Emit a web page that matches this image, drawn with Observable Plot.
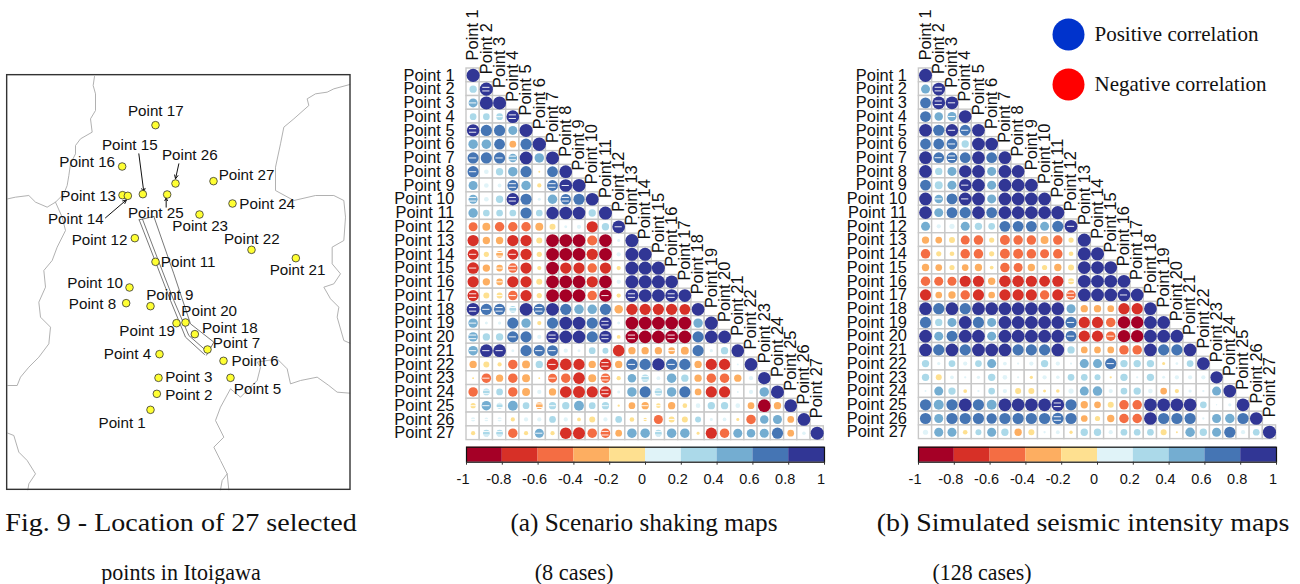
<!DOCTYPE html>
<html><head><meta charset="utf-8">
<script src="https://cdn.jsdelivr.net/npm/d3@7"></script>
<script src="https://cdn.jsdelivr.net/npm/@observablehq/plot@0.6"></script>
<style>
html,body{margin:0;padding:0;background:#fff}
#c{position:relative;width:1300px;height:584px;overflow:hidden}
#c svg{position:absolute;background:transparent;overflow:visible}
.cap{position:absolute;font-family:"Liberation Serif",serif;color:#111;white-space:nowrap;line-height:1}
</style></head><body><div id="c"></div>
<script>
const pointNames = d3.range(1,28).map(i=>"Point "+i);
const binEdges = [-1,-0.8,-0.6,-0.4,-0.2,0,0.2,0.4,0.6,0.8,1];
const binColors = ["#A50026","#D73027","#F46D43","#FDAE61","#FEE090","#E0F3F8","#ABD9E9","#74ADD1","#4575B4","#313695"];

const rowsA = [
[.95],
[.3,.95],
[.45,.95,.95],
[.25,.25,.25,.9],
[.85,.7,.7,.45,.95],
[.5,.5,.65,-.25,.7,1],
[.7,.7,.7,.4,.9,.5,.95],
[.7,.12,.3,.5,.7,-.02,.65,.9],
[.45,.12,.08,.65,.5,-.1,.65,.9,.95],
[.45,.12,.3,.85,.7,.05,.5,.6,.7,.9],
[.5,.25,.25,.25,.7,.25,.85,.9,.9,.3,.95],
[-.45,-.35,-.5,-.5,-.5,-.35,-.2,.05,.1,-.7,.3,.9],
[-.7,-.3,-.3,-.7,-.7,-.2,-.9,-.9,-.9,-.55,-.9,.05,.95],
[-.65,-.15,-.25,-.65,-.7,-.15,-.9,-.9,-.9,-.7,-.9,.1,.95,.95],
[-.75,-.3,-.25,-.5,-.7,-.1,-.9,-.7,-.7,-.5,-.7,-.1,.95,.95,.95],
[-.7,-.3,-.25,-.7,-.7,-.2,-.9,-.9,-.9,-.7,-.9,.1,.95,.95,.95,.9],
[-.7,-.2,-.2,-.5,-.7,-.15,-.9,-.9,-.9,-.5,-.85,-.1,.9,.9,.9,.9,.9],
[.9,.7,.7,.25,.9,.7,.9,.7,.5,.5,.7,-.4,-.7,-.7,-.7,-.7,-.65,.9],
[.5,.05,.06,.7,.5,-.1,.7,.9,.9,.7,.85,.05,-.9,-.9,-.9,-.9,-.9,.5,.95],
[.5,.3,.3,.7,.7,.1,.85,.9,.9,.7,.85,-.08,-.9,-.9,-.9,-.9,-.9,.7,.9,.9],
[.5,.9,.9,.05,.7,.7,.65,.1,.05,.25,.2,-.75,-.3,-.3,-.3,-.25,-.35,.7,.06,.3,.9],
[-.3,-.2,-.1,-.5,-.35,.3,-.75,-.75,-.7,-.3,-.75,-.3,.7,.7,.85,.7,.7,-.3,-.7,-.7,.02,.9],
[-.02,-.5,-.3,-.5,-.35,-.02,-.45,-.5,-.75,-.35,-.5,-.1,.4,.3,.08,.5,.3,-.3,-.5,-.5,-.3,.1,.85],
[-.5,.25,.25,-.5,-.35,.1,-.3,-.75,-.8,-.7,-.7,.05,.5,.7,.3,.5,.7,-.25,-.7,-.7,.02,.1,.5,.95],
[-.15,.5,.2,.55,.25,-.25,.3,.3,.55,.25,.3,-.03,-.25,-.3,-.12,-.3,-.12,.12,.3,.3,.12,-.25,-.9,-.3,.9],
[.1,.08,.1,-.1,.1,.1,.25,.1,-.08,-.2,.1,.25,-.12,-.07,-.45,-.2,-.2,.2,.05,.08,-.05,-.5,.4,.45,-.25,.9],
[-.1,.25,.25,-.5,-.1,.45,-.1,-.75,-.8,-.5,-.5,-.25,.5,.5,.25,.5,.5,-.05,-.7,-.5,.45,.4,.45,.7,-.25,.07,.95]
];
const rowsB = [
[.95],
[.45,.9],
[.65,.9,.9],
[.65,.4,.45,.9],
[.9,.7,.85,.65,.9],
[.65,.65,.65,.3,.9,.9],
[.9,.65,.65,.65,.9,.65,.9],
[.9,.3,.45,.85,.9,.45,.9,.9],
[.65,.35,.45,.85,.9,.45,.9,.9,.9],
[.9,.4,.65,.9,.9,.45,.9,.9,.9,.9],
[.9,.45,.65,.7,.9,.65,.9,.9,.9,.9,.95],
[.45,.1,.15,.45,.3,.25,.65,.65,.65,.45,.7,.9],
[-.3,-.25,-.2,-.45,-.5,-.15,-.55,-.5,-.5,-.35,-.5,-.15,.95],
[-.5,-.15,-.12,-.5,-.5,-.15,-.55,-.55,-.5,-.45,-.5,-.12,.95,.95],
[-.3,-.25,-.15,-.25,-.3,-.08,-.5,-.45,-.3,-.15,-.3,-.2,.9,.9,.9],
[-.5,-.45,-.45,-.7,-.7,-.3,-.75,-.75,-.7,-.65,-.7,-.2,.9,.9,.9,.9],
[-.7,-.25,-.3,-.5,-.7,-.25,-.7,-.7,-.7,-.5,-.7,-.5,.9,.9,.9,.9,.9],
[.9,.7,.9,.7,.9,.9,.9,.9,.9,.9,.9,.45,-.3,-.3,-.25,-.7,-.7,.9],
[.7,.3,.45,.9,.7,.45,.9,.9,.9,.9,.9,.7,-.7,-.7,-.5,-.85,-.85,.9,.9],
[.9,.45,.65,.9,.9,.45,.9,.9,.9,.9,.9,.65,-.7,-.7,-.5,-.85,-.85,.9,.9,.9],
[.9,.7,.9,.7,.9,.9,.9,.7,.7,.7,.9,.3,-.25,-.25,-.25,-.5,-.5,.9,.7,.7,.9],
[.3,.06,.25,.1,.25,.45,.08,.03,.1,.3,.1,.03,.45,.45,.7,.3,.3,.3,-.05,.04,.25,.9],
[.3,-.2,.08,.03,.06,.3,.12,.03,-.06,.1,.07,.25,.25,.2,-.03,.3,.03,.3,.05,.1,.1,.1,.85],
[.02,.45,.3,-.08,.03,.25,.1,-.2,-.2,-.05,-.07,.15,.45,.5,.1,.25,.3,.12,-.25,-.1,.06,.03,.45,.9],
[.7,.55,.7,.9,.7,.55,.9,.9,.9,.9,.9,.7,-.3,-.25,-.2,-.5,-.5,.9,.9,.9,.9,.25,.01,.06,.9],
[.7,.45,.7,.7,.7,.6,.7,.7,.7,.7,.75,.7,-.25,-.15,-.3,-.5,-.5,.9,.7,.7,.7,.03,.45,.5,.7,.9],
[.15,.45,.45,-.12,.2,.45,.3,-.3,-.2,.03,.08,-.06,.3,.3,.1,.25,.25,.25,-.2,-.02,.5,.3,.45,.7,.1,.25,.95]
];
const stripeSingleA = [[3,1],[4,3],[7,1],[7,3],[8,1],[9,8],[12,12],[14,1],[14,4],[15,1],[15,3],[16,3],[17,3],[17,4],[17,11],[18,2],[19,1],[20,4],[21,1],[21,2],[21,3],[21,6],[21,7],[21,16],[22,7],[22,13],[22,16],[23,2],[23,7],[25,1],[25,2],[25,7],[25,11],[25,14],[25,15],[26,1],[26,2],[26,3],[26,14],[26,16],[27,6]];
const stripeDoubleA = [[2,2],[4,4],[5,1],[7,4],[9,4],[9,7],[10,1],[10,4],[10,8],[14,3],[15,4],[17,1],[17,13],[17,16],[18,1],[18,3],[18,4],[18,6],[19,11],[20,1],[20,7],[20,11],[20,13],[20,16],[22,11],[23,11],[23,14],[24,2],[24,11],[24,15],[25,3],[25,6],[27,2],[27,3],[27,11],[27,15]];
const stripeSingleB = [[3,3],[4,3],[5,3],[5,4],[6,3],[7,2],[9,4],[10,2],[10,4],[12,12],[16,12],[17,16],[19,12],[20,12],[20,15],[22,15]];
const stripeDoubleB = [[2,2],[3,2],[7,3],[17,12],[25,11],[26,11]];

const colorTicks = [-1,-.8,-.6,-.4,-.2,0,.2,.4,.6,.8,1];

const mapPoints = [[450,1048],[469,1000],[474,952],[477,881],[690,952],[669,901],[621,867],[377,728],[450,737],[387,681],[465,604],[403,533],[366,404],[382,406],[427,401],[365,318],[465,194],[583,821],[528,788],[555,786],[886,593],[753,568],[597,462],[696,429],[500,402],[525,369],[639,362]];
const mapLabelSpots = [[365,1087],[565,1005],[565,950],[381,881],[771,985],[764,902],[708,848],[276,731],[508,704],[284,669],[563,605],[297,538],[263,406],[226,475],[388,255],[260,306],[466,153],[688,802],[440,812],[626,752],[891,630],[754,535],[599,497],[800,431],[466,457],[568,285],[738,343]];
const mapBox = [20,44,1050,1288];
const boundaries = [
[[282,48],[278,75],[285,100],[285,150],[270,175],[275,215],[240,235],[225,255],[225,280],[210,310],[205,345],[200,375],[190,400],[165,425],[140,440],[105,425],[85,405],[45,410],[22,415]],
[[165,425],[185,470],[195,510],[170,560],[155,600],[130,630],[135,680],[115,725],[120,770],[150,800],[145,850],[115,890],[85,920],[60,950],[50,975],[22,975]],
[[1048,72],[1000,85],[980,95],[945,100],[920,115],[925,135],[880,175],[850,200],[840,250],[825,320],[825,390],[880,420],[945,405],[1000,405],[1030,420],[1035,470],[1030,540],[995,560],[995,610],[1020,640],[1000,670],[970,680],[990,715],[1015,740],[1010,770],[1030,840],[1048,848]],
[[1048,998],[1010,995],[985,975],[950,950],[900,960],[870,970],[860,925],[830,895],[770,905],[780,920],[770,960],[720,1010],[690,985],[660,1040],[645,1080],[670,1130],[640,1160],[660,1200],[680,1240],[685,1288]],
[[660,1288],[665,1260],[680,1240]],
[[22,1118],[40,1125],[55,1175],[80,1200],[105,1240],[85,1270],[82,1288]]
];
const faultLines = [
[[416,478],[465,604],[510,720],[555,830],[612,882]],
[[426,476],[475,604],[520,720],[565,825],[622,875]],
[[460,468],[520,640],[570,790],[640,845],[618,884]],
[[416,478],[460,468]]
];
const arrows = [[415,280,430,395],[535,310,525,355],[497,440,497,412],[315,472,378,418]];
const legendLabels = ["Positive correlation","Negative correlation"];
const legendColors = ["#0033cc","#ff0000"];

const sans = '"Liberation Sans",Arial,sans-serif', serif = '"Liberation Serif",serif';
const root = document.getElementById("c");
function put(el,left,top){el.style.left=left+"px";el.style.top=top+"px";root.appendChild(el);}
function tidy(rows){return rows.flatMap((r,i)=>r.map((v,j)=>({row:pointNames[i],col:pointNames[j],v})));}
function stripe(list){return list.map(([r,c])=>({row:pointNames[r-1],col:pointNames[c-1]}));}

function matrix(rows,s1,s2,o){
  const cells = tidy(rows);
  const diag = pointNames.map(p=>({p}));
  return Plot.plot({
    width:o.w,height:o.h,marginLeft:o.ml,marginRight:o.mr,marginTop:o.mt,marginBottom:o.mb,
    style:{fontFamily:sans,fontSize:"16.4px",color:"#111"},
    x:{type:"band",domain:pointNames,padding:0,round:false,axis:null},
    y:{type:"band",domain:pointNames,padding:0,round:false,axis:null},
    r:{type:"sqrt",domain:[0,1],range:[0,6.7]},
    color:{type:"threshold",domain:binEdges.slice(1,-1),range:binColors},
    marks:[
      Plot.cell(cells,{x:"col",y:"row",fill:"white",stroke:"#c8c8c8",strokeWidth:1.4}),
      Plot.dot(cells,{x:"col",y:"row",r:d=>Math.abs(d.v),fill:d=>d.v}),
      Plot.tickY(stripe(s1),{x:"col",y:"row",stroke:"white",strokeWidth:.9,insetLeft:3,insetRight:3}),
      Plot.tickY(stripe(s2),{x:"col",y:"row",stroke:"white",strokeWidth:.9,insetLeft:3,insetRight:3,dy:-1.8}),
      Plot.tickY(stripe(s2),{x:"col",y:"row",stroke:"white",strokeWidth:.9,insetLeft:3,insetRight:3,dy:1.8}),
      Plot.axisY({tickSize:0,tickPadding:o.pad,label:null,fontSize:16.4,fill:"#111"}),
      Plot.text(diag,{x:"p",y:"p",text:"p",rotate:-90,textAnchor:"start",dy:-15,fontSize:16.4,fill:"#111"})
    ]
  });
}
function colorbar(){
  const bins = binColors.map((c,i)=>({x1:binEdges[i],x2:binEdges[i+1],c}));
  return Plot.plot({
    width:410,height:60,marginLeft:26,marginRight:26,marginTop:6.7,marginBottom:38.3,
    style:{fontFamily:sans,fontSize:"14.5px",color:"#111"},
    x:{domain:[-1,1],axis:null},y:{domain:[0,1],axis:null},
    marks:[
      Plot.rect(bins,{x1:"x1",x2:"x2",y1:0,y2:1,fill:"c"}),
      Plot.frame({stroke:"#111",strokeWidth:1.2}),
      Plot.axisX({ticks:colorTicks,anchor:"bottom",tickSize:3,tickPadding:0,text:null,label:null,stroke:"#333"}),
      Plot.axisX({ticks:colorTicks,anchor:"bottom",tickSize:0,tickPadding:12,dx:-3.5,label:null,tickFormat:d=>String(Math.round(d*10)/10),fontSize:14.5,fill:"#111"})
    ]
  });
}
function mapPlot(){
  const pts = mapPoints.map(([x,y],i)=>({x,y,name:pointNames[i]}));
  const labs = mapLabelSpots.map(([x,y],i)=>({x,y,name:pointNames[i]}));
  const bs = boundaries.flatMap((l,i)=>l.map(([x,y])=>({x,y,i})));
  const fs = faultLines.flatMap((l,i)=>l.map(([x,y])=>({x,y,i})));
  return Plot.plot({
    width:360,height:440,margin:0,
    style:{fontFamily:sans,fontSize:"15.2px",color:"#111"},
    x:{domain:[0,1080],axis:null},y:{domain:[0,1320],reverse:true,axis:null},
    marks:[
      Plot.line(bs,{x:"x",y:"y",z:"i",stroke:"#a8a8a8",strokeWidth:.9,curve:"linear"}),
      Plot.line(fs,{x:"x",y:"y",z:"i",stroke:"#555",strokeWidth:.8,curve:"linear"}),
      Plot.rect([mapBox],{x1:d=>d[0],y1:d=>d[1],x2:d=>d[2],y2:d=>d[3],fill:"none",stroke:"#333",strokeWidth:1.4}),
      Plot.arrow(arrows,{x1:d=>d[0],y1:d=>d[1],x2:d=>d[2],y2:d=>d[3],stroke:"#111",strokeWidth:1,headLength:6,headAngle:50}),
      Plot.dot(pts,{x:"x",y:"y",r:3.8,fill:"#ffff33",stroke:"#333",strokeWidth:.8}),
      Plot.text(labs,{x:"x",y:"y",text:"name",fontSize:15.2,fill:"#111"})
    ]
  });
}
function legendPlot(){
  return Plot.plot({
    width:240,height:100,marginLeft:0,marginRight:0,marginTop:0,marginBottom:0,
    style:{fontFamily:serif,fontSize:"21px",color:"#111"},
    y:{type:"point",domain:legendLabels,range:[24,74],padding:0,round:false,axis:null},
    x:{domain:[0,240],axis:null},
    color:{domain:legendLabels,range:legendColors},
    marks:[
      Plot.dot(legendLabels,{x:18,y:d=>d,r:16,fill:d=>d}),
      Plot.text(legendLabels,{x:44,y:d=>d,text:d=>d,textAnchor:"start",fontSize:21,fill:"#111"})
    ]
  });
}
put(mapPlot(),0,60);
put(matrix(rowsA,stripeSingleA,stripeDoubleA,{w:450,h:445,ml:76,mr:16.7,mt:68,mb:5.4,pad:12}),390,0);
put(matrix(rowsB,stripeSingleB,stripeDoubleB,{w:450,h:445,ml:78.4,mr:14.4,mt:68,mb:6.4,pad:12}),840,0);
put(colorbar(),440,440);
put(colorbar(),892.3,440);
put(legendPlot(),1050,10);
const caps = [["Fig. 9 - Location of 27 selected",181,510.3,25.5,1.10],["points in Itoigawa",181,560.7,23,.96],
["(a) Scenario shaking maps",644,510.3,25.5,.99],["(8 cases)",574,560.7,23,.97],
["(b) Simulated seismic intensity maps",1083,510.3,25.5,1.095],["(128 cases)",982,560.7,23,.95]];
caps.forEach(([t,x,y,s,k])=>{const d=document.createElement("div");d.className="cap";d.textContent=t;d.style.left=x+"px";d.style.top=y+"px";d.style.fontSize=s+"px";d.style.transform=`translateX(-50%) scaleX(${k})`;root.appendChild(d);});
</script></body></html>
